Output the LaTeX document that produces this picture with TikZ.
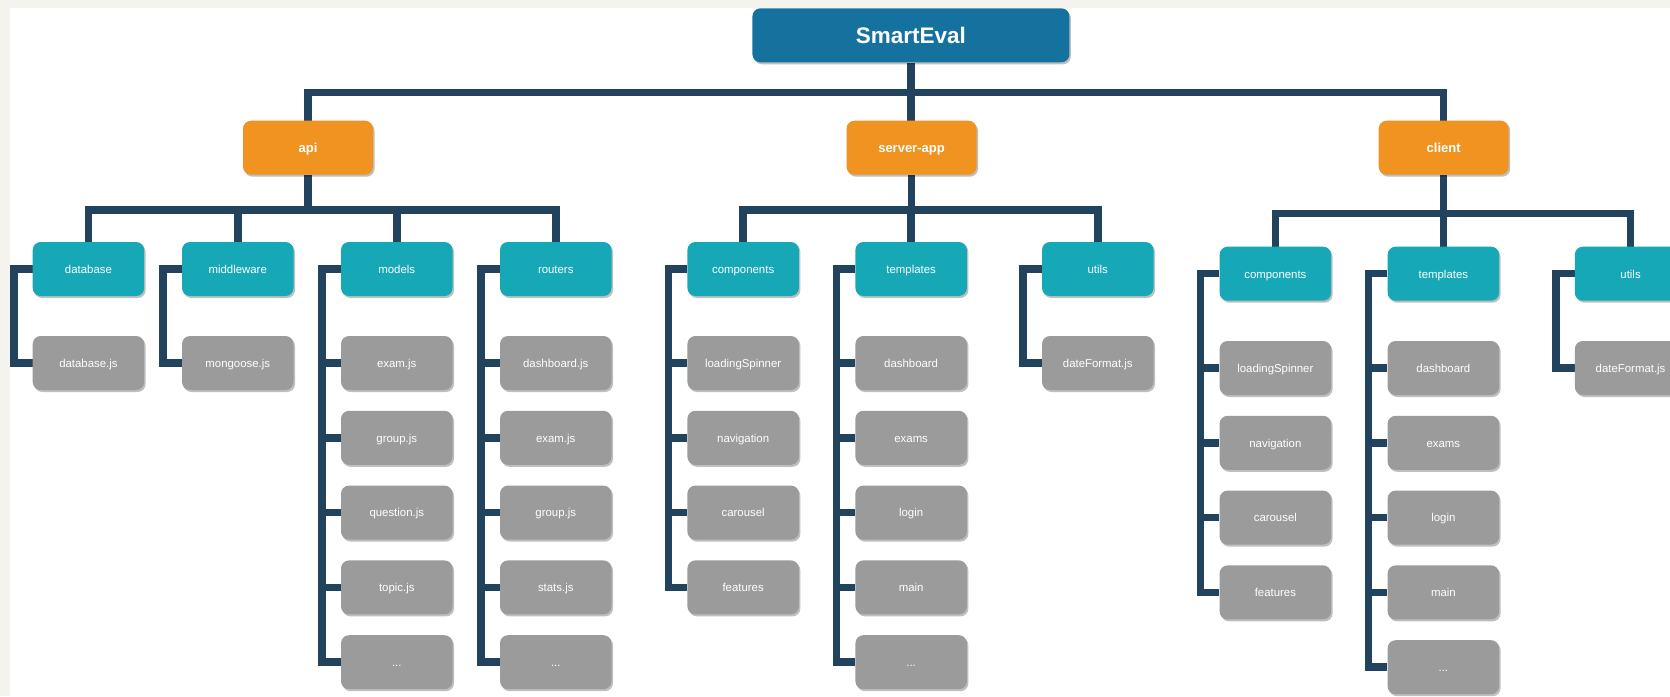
\documentclass[tikz,border=0pt]{standalone}
\usepackage{fontspec}
\setmainfont{Liberation Sans}
\usetikzlibrary{shadows,calc}
\definecolor{offw}{RGB}{244,243,238}
\definecolor{rootc}{RGB}{21,114,158}
\definecolor{orc}{RGB}{240,147,32}
\definecolor{tealc}{RGB}{22,168,182}
\definecolor{grayc}{RGB}{155,155,155}
\definecolor{linec}{RGB}{33,67,94}
\pgfdeclarelayer{back}
\pgfdeclarelayer{links}
\pgfsetlayers{back,links,main}
\newcommand\tdots{...}
\newcommand\graycol[4]{%
  \foreach \t [count=\k] in {#4} {%
    \pgfmathsetmacro\yy{#3+74.8*(\k-1)}%
    \node[graybox] (#1-\k) at (#2,\yy) {\t};
    \begin{pgfonlayer}{links}
      \draw[link] (#1.west) -- ++(-18.7,0) |- (#1-\k.west);
    \end{pgfonlayer}
  }%
}
\tikzset{
  box/.style={rounded corners=8pt, inner sep=0pt, align=center, text=white,
    text depth=0pt,
    drop shadow={shadow xshift=1.5pt, shadow yshift=-2pt, opacity=0.25, fill=black}},
  rootbox/.style={box, fill=rootc, minimum width=317pt, minimum height=54pt,
    text height=16.6pt, font=\fontsize{22.5}{26}\selectfont\bfseries},
  orangebox/.style={box, fill=orc, minimum width=130pt, minimum height=54pt,
    text height=9.8pt, font=\fontsize{13}{15}\selectfont\bfseries},
  tealbox/.style={box, fill=tealc, minimum width=111.5pt, minimum height=54pt,
    text height=8.6pt, font=\fontsize{11.4}{13}\selectfont},
  graybox/.style={box, fill=grayc, minimum width=111.5pt, minimum height=54pt,
    text height=8.6pt, font=\fontsize{11.4}{13}\selectfont},
  link/.style={draw=linec, line width=7.5pt, line join=miter}
}
\begin{document}
\begin{tikzpicture}[x=1pt,y=-1pt]
\useasboundingbox (0,0) rectangle (1670,696);
\begin{pgfonlayer}{back}
  \fill[offw] (0,0) rectangle (1670,696);
  \fill[white] (10,8) rectangle (1670,696);
\end{pgfonlayer}
\clip (0,0) rectangle (1670,696);

% buses
\coordinate (topbus) at (0,92.5);
\coordinate (apibus) at (0,210);
\coordinate (srvbus) at (0,210);
\coordinate (clibus) at (0,213.7);

% top levels
\node[rootbox] (root) at (910.9,35.3) {SmartEval};
\node[orangebox] (api) at (308,147.7) {api};
\node[orangebox] (srv) at (911.5,147.7) {server-app};
\node[orangebox] (cli) at (1443.7,147.7) {client};

% folders
\node[tealbox] (adb) at (88.45,269) {database};
\node[tealbox] (amw) at (237.75,269) {middleware};
\node[tealbox] (amd) at (396.75,269) {models};
\node[tealbox] (art) at (555.75,269) {routers};
\node[tealbox] (scp) at (743.15,269) {components};
\node[tealbox] (stp) at (911.15,269) {templates};
\node[tealbox] (sut) at (1097.75,269) {utils};
\node[tealbox] (ccp) at (1275.35,273.7) {components};
\node[tealbox] (ctp) at (1443.35,273.7) {templates};
\node[tealbox] (cut) at (1630.55,273.7) {utils};

% files
\graycol{adb}{88.45}{363}{database.js}
\graycol{amw}{237.75}{363}{mongoose.js}
\graycol{amd}{396.75}{363}{exam.js,group.js,question.js,topic.js,\tdots}
\graycol{art}{555.75}{363}{dashboard.js,exam.js,group.js,stats.js,\tdots}
\graycol{scp}{743.15}{363}{loadingSpinner,navigation,carousel,features}
\graycol{stp}{911.15}{363}{dashboard,exams,login,main,\tdots}
\graycol{sut}{1097.75}{363}{dateFormat.js}
\graycol{ccp}{1275.35}{368}{loadingSpinner,navigation,carousel,features}
\graycol{ctp}{1443.35}{368}{dashboard,exams,login,main,\tdots}
\graycol{cut}{1630.55}{368}{dateFormat.js}

% connectors
\begin{pgfonlayer}{links}
  \draw[link] (root.south) -- (root.south |- srv.north);
  \draw[link] (api) -- (api |- topbus) -- (cli |- topbus) -- (cli);
  % api
  \draw[link] (api) -- (api |- apibus);
  \draw[link] (adb) -- (adb |- apibus) -- (art |- apibus) -- (art);
  \draw[link] (amw) -- (amw |- apibus);
  \draw[link] (amd) -- (amd |- apibus);
  % server-app
  \draw[link] (srv) -- (srv |- srvbus);
  \draw[link] (scp) -- (scp |- srvbus) -- (sut |- srvbus) -- (sut);
  \draw[link] (stp) -- (stp |- srvbus);
  % client
  \draw[link] (cli) -- (cli |- clibus);
  \draw[link] (ccp) -- (ccp |- clibus) -- (cut |- clibus) -- (cut);
  \draw[link] (ctp) -- (ctp |- clibus);
\end{pgfonlayer}
\end{tikzpicture}
\end{document}
